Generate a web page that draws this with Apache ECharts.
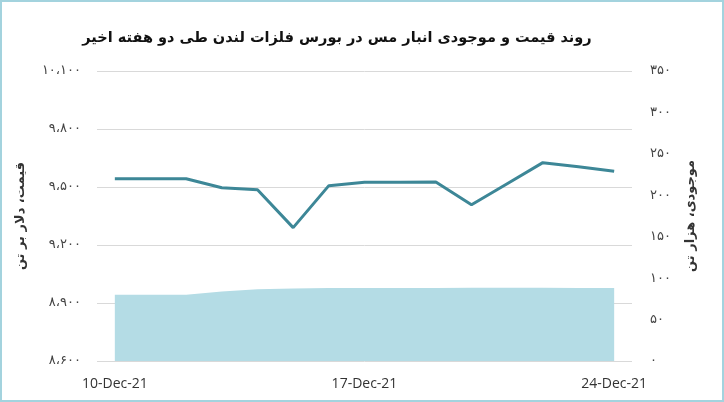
<!DOCTYPE html>
<html><head><meta charset="utf-8">
<script src="https://cdn.jsdelivr.net/npm/echarts@6/dist/echarts.min.js"></script>
<style>
html,body{margin:0;padding:0;background:#fff;}
#frame{width:724px;height:402px;box-sizing:border-box;border:2px solid #a3d3de;position:relative;}
#c{position:absolute;left:-2px;top:-2px;width:724px;height:402px;}
</style></head>
<body><div id="frame"><div id="c"></div></div>
<script>
const titleText = 'روند قیمت و موجودی انبار مس در بورس فلزات لندن طی دو هفته اخیر';
const categories = ['10-Dec-21','11-Dec-21','12-Dec-21','13-Dec-21','14-Dec-21','15-Dec-21','16-Dec-21','17-Dec-21','18-Dec-21','19-Dec-21','20-Dec-21','21-Dec-21','22-Dec-21','23-Dec-21','24-Dec-21'];
const priceValues = [9543, 9543, 9543, 9496, 9486, 9290, 9507, 9524, 9524, 9526, 9408, 9517, 9626, 9605, 9581];
const stockValues = [80, 80, 80, 84, 86.5, 87.5, 88, 88, 88, 88, 88.5, 88.5, 88.5, 88, 88];
const leftAxisName = 'قیمت، دلار بر تن';
const rightAxisName = 'موجودی، هزار تن';

const faDigits = '۰۱۲۳۴۵۶۷۸۹';
function toFa(n){
  let s = String(Math.round(n));
  if (s.length > 3) s = s.slice(0, s.length-3) + ',' + s.slice(s.length-3);
  return s.replace(/\d/g, d => faDigits[+d]).replace(',', '،');
}

const chart = echarts.init(document.getElementById('c'));
chart.setOption({
  animation: false,
  title: {
    text: titleText, left: 332, textAlign: 'center', top: 26,
    textStyle: {fontFamily: 'DejaVu Sans', fontWeight: 'bold', fontSize: 14.5, color: '#111'}
  },
  grid: {left: 97, right: 92, top: 71, bottom: 41},
  xAxis: {
    type: 'category', data: categories, boundaryGap: true,
    axisLine: {show: false}, axisTick: {show: false},
    axisLabel: {interval: 6, margin: 16, color: '#333', fontFamily: 'Open Sans', fontSize: 14}
  },
  yAxis: [{
    type: 'value', min: 8600, max: 10100, interval: 300, position: 'left',
    name: leftAxisName, nameLocation: 'middle', nameRotate: 90, nameGap: 70,
    nameTextStyle: {fontFamily: 'DejaVu Sans', fontWeight: 'bold', fontSize: 13, color: '#333'},
    axisLine: {show: false}, axisTick: {show: false},
    axisLabel: {formatter: v => toFa(v), margin: 16, color: '#444', fontFamily: 'DejaVu Sans', fontSize: 13},
    splitLine: {lineStyle: {color: '#d9d9d9', width: 1}}
  }, {
    type: 'value', min: 0, max: 350, interval: 50, position: 'right',
    name: rightAxisName, nameLocation: 'middle', nameRotate: 90, nameGap: 52,
    nameTextStyle: {fontFamily: 'DejaVu Sans', fontWeight: 'bold', fontSize: 13, color: '#333'},
    axisLine: {show: false}, axisTick: {show: false},
    axisLabel: {formatter: v => toFa(v), margin: 18, color: '#444', fontFamily: 'DejaVu Sans', fontSize: 13},
    splitLine: {show: false}
  }],
  series: [{
    type: 'line', yAxisIndex: 1, data: stockValues, symbol: 'none',
    lineStyle: {width: 0}, areaStyle: {color: '#b4dce5', opacity: 1}, z: 1
  }, {
    type: 'line', yAxisIndex: 0, data: priceValues, symbol: 'none',
    lineStyle: {width: 3, color: '#3d8797'}, z: 3
  }]
});
</script></body></html>
